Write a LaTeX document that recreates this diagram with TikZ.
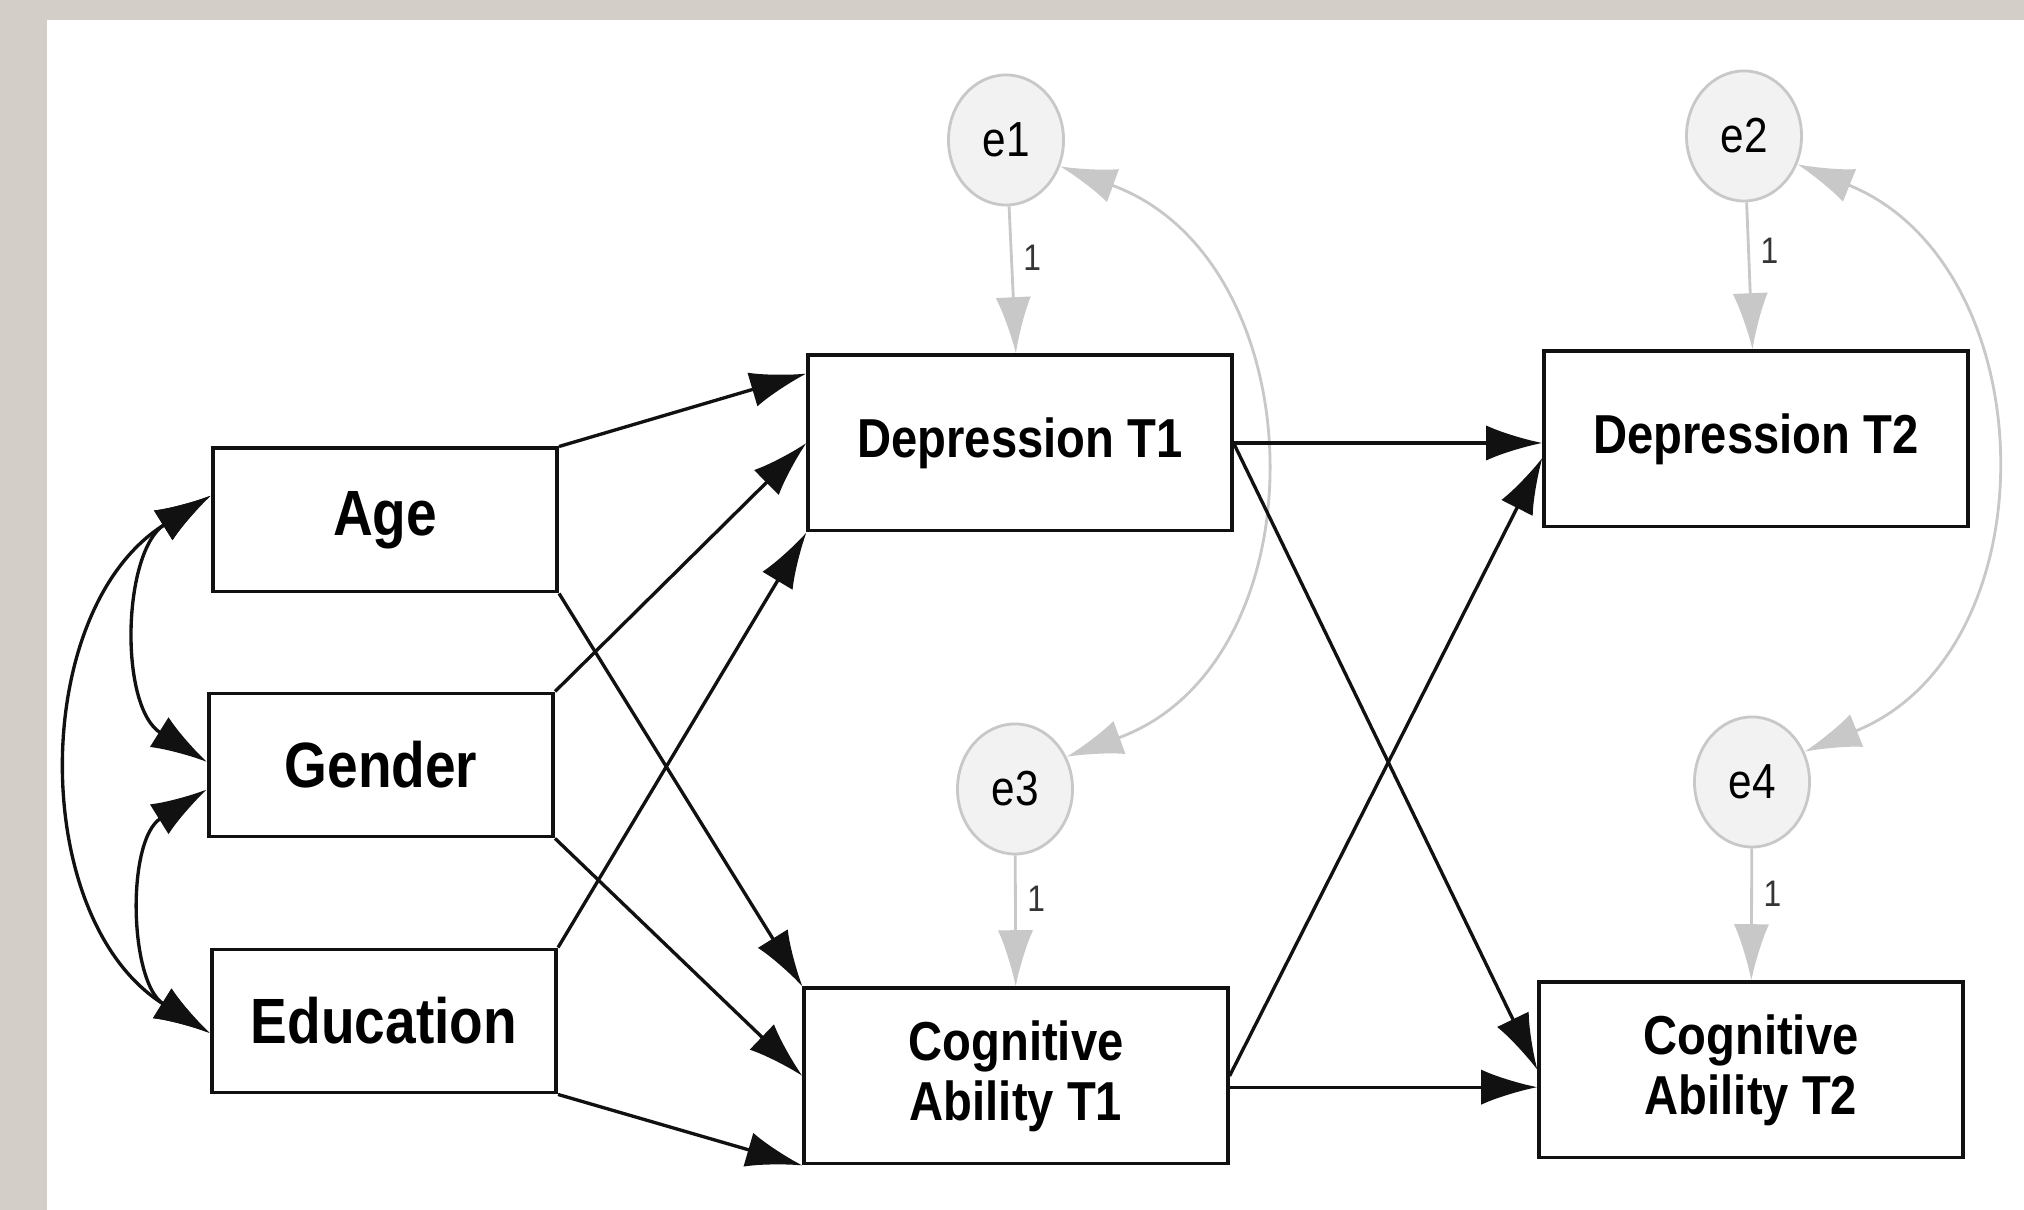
\documentclass[tikz,border=0pt]{standalone}
\usepackage{fontspec}
\setmainfont{Liberation Sans}[FakeStretch=0.86]
\usepackage{tikz}
\usetikzlibrary{positioning,shapes.geometric,arrows.meta,calc}
\definecolor{ink}     {HTML}{111111}
\definecolor{frame}   {HTML}{D3CFC8}
\definecolor{errgray} {HTML}{C8C8C8}
\definecolor{errfill} {HTML}{F2F2F2}
\tikzset{
  >={Latex[length=16pt,width=10pt]},
  % --- nodes
  obs/.style  = {rectangle, draw=ink, fill=white, line width=1.1pt, inner sep=0pt,
                 align=center},
  exo/.style  = {obs, minimum width=3.44cm, minimum height=1.43cm,
                 font=\fontsize{18.2}{21}\selectfont\bfseries},
  endo/.style = {obs, minimum width=4.23cm, minimum height=1.75cm,
                 font=\fontsize{15.6}{17}\selectfont\bfseries},
  err/.style  = {ellipse, draw=errgray, fill=errfill, line width=0.8pt, inner sep=0pt,
                 minimum width=1.15cm, minimum height=1.3cm, font=\fontsize{14}{16}\selectfont},
  wt/.style   = {font=\fontsize{10.5}{12}\selectfont, text=ink!85, inner sep=3pt},
  % --- edges
  reg/.style  = {->, line width=0.95pt, draw=ink},
  cov/.style  = {<->, line width=0.95pt, draw=ink},
  epath/.style= {->, line width=0.8pt, draw=errgray},
  ecov/.style = {<->, line width=0.8pt, draw=errgray},
}

\begin{document}
\begin{tikzpicture}[x=0.01cm, y=0.01cm]
  \fill[frame] (0,0) rectangle (2024,1210);
  \fill[white] (47,0) rectangle (2024,1190);
  \useasboundingbox (0,0) rectangle (2024,1210);

  % covariates
  \node[exo] (age)    at (385,690) {Age};
  \node[exo] (gender) at (381,445) {Gender};
  \node[exo] (educ)   at (384,189) {Education};

  % wave 1 and wave 2
  \node[endo] (depA) at (1020,767) {Depression T1};
  \node[endo] (cogA) at (1016,134) {Cognitive\\Ability T1};
  \node[endo] (depB) at (1756,771) {Depression T2};
  \node[endo] (cogB) at (1751,140) {Cognitive\\Ability T2};

  % residuals
  \node[err] (e1) at (1006,1070) {e1};
  \node[err] (e2) at (1744,1074) {e2};
  \node[err] (e3) at (1015,421)  {e3};
  \node[err] (e4) at (1752,428)  {e4};

  \draw[ecov] (e1.-26) to[out=-20,in=20,looseness=1.19] (e3.32);
  \draw[ecov] (e2.-28) to[out=-22,in=22,looseness=1.17] (e4.30);
  \draw[epath] (e1) -- node[wt,right,pos=0.35] {1} (depA);
  \draw[epath] (e2) -- node[wt,right,pos=0.33] {1} (depB);
  \draw[epath] (e3) -- node[wt,right,pos=0.33] {1} (cogA);
  \draw[epath] (e4) -- node[wt,right,pos=0.34] {1} (cogB);

  \draw[cov] (age.172) to[out=212,in=148,looseness=1.0] (gender.179);
  \draw[cov] (gender.188) to[out=212,in=148,looseness=1.0] (educ.184);
  \draw[cov] (age.172) to[out=212,in=148,looseness=1.02] (educ.184);

  \draw[reg] (age.north east) -- (depA.162);
  \draw[reg] (gender.north east) -- (depA.west);
  \draw[reg] (educ.north east) -- (depA.south west);
  \draw[reg] (age.south east) -- (cogA.north west);
  \draw[reg] (gender.south east) -- (cogA.west);
  \draw[reg] (educ.south east) -- (cogA.south west);

  \draw[reg] (depA.east) -- (depA.east -| depB.west);
  \draw[reg] (cogA.-3) -- (cogA.-3 -| cogB.west);
  \draw[reg] (depA.east) -- (cogB.west);
  \draw[reg] (cogA.east) -- (depB.185);
\end{tikzpicture}
\end{document}
